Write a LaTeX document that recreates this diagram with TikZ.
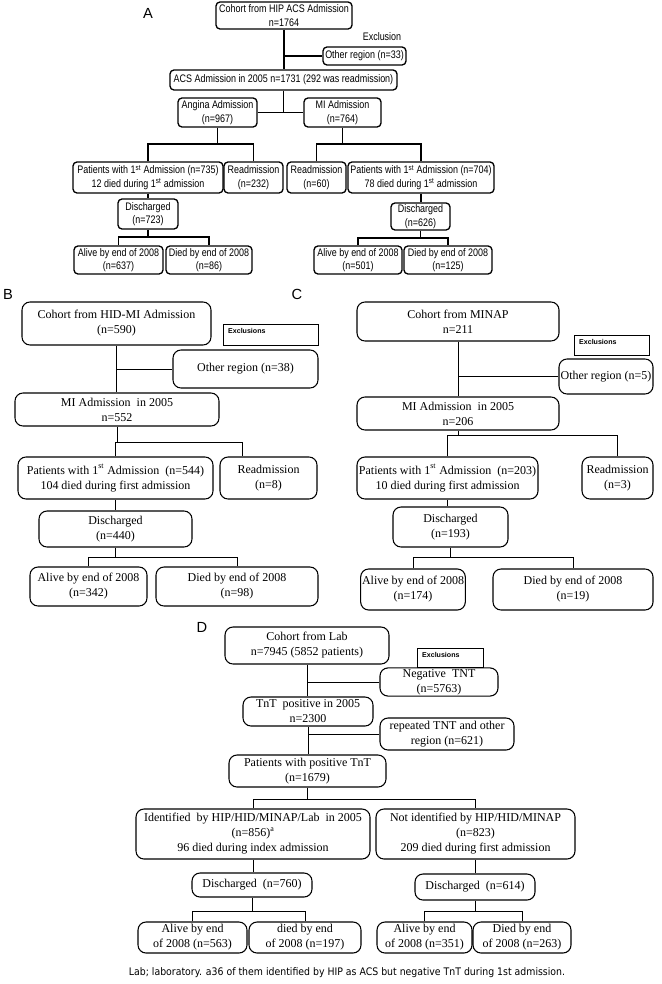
\documentclass[tikz,border=0pt]{standalone}
\usepackage{fontspec}
\setmainfont{Liberation Serif}
\newfontfamily\asans[FakeStretch=0.82]{Liberation Sans}
\newfontfamily\lsans{Liberation Sans}
\newfontfamily\fnsans[FakeStretch=0.9]{DejaVu Sans}
\newcommand{\bx}[7][]{\node[#1, minimum width={(#5-#3)*0.75pt}, minimum height={(#6-#4)*0.75pt}] (#2) at ({(#3+#5)/2},{(#4+#6)/2}) {#7};}
\tikzset{
  abox/.style={draw, rounded corners=3pt, line width=1pt, align=center, inner sep=1pt, font=\asans\fontsize{8.2}{10.2}\selectfont},
  sbox/.style={draw, rounded corners=6pt, line width=0.8pt, align=center, inner sep=1pt, font=\fontsize{9}{11.25}\selectfont},
  exbox/.style={draw, line width=0.6pt, inner sep=0pt},
  extext/.style={anchor=west, inner sep=0pt, font=\lsans\bfseries\fontsize{5.3}{6}\selectfont},
  aconn/.style={line width=0.9pt},
  sconn/.style={line width=0.7pt},
  plabel/.style={inner sep=0pt, font=\lsans\fontsize{11}{12}\selectfont}
}
\begin{document}
\begin{tikzpicture}[x=0.75pt,y=-0.75pt]
\useasboundingbox (0,0) rectangle (661,984);
% ---------------- Panel A ----------------
\node[plabel] (labA) at (148,13) {A};
\bx[abox]{top}{216}{2}{352}{29}{Cohort from HIP ACS Admission\\n=1764}
\node[inner sep=0pt, font=\asans\fontsize{8.2}{10}\selectfont] (exA) at (382,37) {Exclusion};
\bx[abox]{oth}{323}{47}{406}{65}{Other region (n=33)}
\bx[abox]{acs}{170}{70}{397}{90}{ACS Admission in 2005 n=1731 (292 was readmission)}
\bx[abox]{ang}{178}{98}{257}{127}{Angina Admission\\(n=967)}
\bx[abox]{mi}{304}{98}{381}{127}{MI Admission\\(n=764)}
\bx[abox]{p1}{73}{162}{223}{193}{Patients with 1\textsuperscript{st} Admission (n=735)\\12 died during 1\textsuperscript{st} admission}
\bx[abox]{r1}{224}{162}{283}{193}{Readmission\\(n=232)}
\bx[abox]{r2}{287}{162}{346}{193}{Readmission\\(n=60)}
\bx[abox]{p2}{348}{162}{494}{193}{Patients with 1\textsuperscript{st} Admission (n=704)\\78 died during 1\textsuperscript{st} admission}
\bx[abox]{d1}{118}{199}{178}{229}{Discharged\\(n=723)}
\bx[abox]{d2}{391}{203}{450}{230}{Discharged\\(n=626)}
\bx[abox]{a1}{74}{246}{163}{274}{Alive by end of 2008\\(n=637)}
\bx[abox]{x1}{166}{246}{252}{274}{Died by end of 2008\\(n=86)}
\bx[abox]{a2}{314}{246}{402}{274}{Alive by end of 2008\\(n=501)}
\bx[abox]{x2}{404}{246}{492}{274}{Died by end of 2008\\(n=125)}
\coordinate (yA1) at (0,144);
\coordinate (yA2) at (0,237);
\coordinate (yA3) at (0,238);
\draw[aconn] (top.south) -- (top.south |- acs.north);
\draw[aconn] (top.south |- oth.west) -- (oth.west);
\draw[aconn] (acs.south) -- (acs.south |- ang.east);
\draw[aconn] (ang.east) -- (mi.west);
\draw[aconn] (ang.south) -- (ang.south |- yA1);
\draw[aconn] (p1.north) -- (p1.north |- yA1) -- (r1.north |- yA1) -- (r1.north);
\draw[aconn] (mi.south) -- (mi.south |- yA1);
\draw[aconn] (r2.north) -- (r2.north |- yA1) -- (p2.north |- yA1) -- (p2.north);
\draw[aconn] (p1.south) -- (p1.south |- d1.north);
\draw[aconn] (p2.south) -- (p2.south |- d2.north);
\draw[aconn] (d1.south) -- (d1.south |- yA2);
\draw[aconn] (a1.north) -- (a1.north |- yA2) -- (x1.north |- yA2) -- (x1.north);
\draw[aconn] (d2.south) -- (d2.south |- yA3);
\draw[aconn] (a2.north) -- (a2.north |- yA3) -- (x2.north |- yA3) -- (x2.north);
% ---------------- Panel B ----------------
\node[plabel] (labB) at (8,294) {B};
\bx[sbox]{bc}{22}{302}{211}{345}{Cohort from HID-MI Admission\\(n=590)}
\bx[exbox]{bex}{223}{324}{318}{345}{}
\node[extext] (bext) at ([xshift=4pt,yshift=-5.5pt]bex.north west) {Exclusions};
\bx[sbox]{bo}{173}{350}{318}{388}{Other region (n=38)}
\bx[sbox]{bmi}{15}{393}{219}{426}{MI Admission\ \ in 2005\\n=552}
\bx[sbox]{bp}{18}{457}{213}{499}{Patients with 1\textsuperscript{st} Admission\ \ (n=544)\\104 died during\ first admission}
\bx[sbox]{br}{220}{457}{317}{499}{Readmission\\(n=8)}
\bx[sbox]{bd}{39}{511}{192}{547}{Discharged\\(n=440)}
\bx[sbox]{ba}{30}{567}{147}{606}{Alive by end of 2008\\(n=342)}
\bx[sbox]{bx}{156}{567}{318}{606}{Died by end of 2008\\(n=98)}
\coordinate (bRj) at (242,442);
\coordinate (yB2) at (0,557);
\draw[sconn] (bc.south) -- (bc.south |- bmi.north);
\draw[sconn] (bc.south |- bo.west) -- (bo.west);
\draw[sconn] (bmi.south) -- (bmi.south |- bRj);
\draw[sconn] (bp.north) |- (bRj) -- (bRj |- br.north);
\draw[sconn] (bp.south) -- (bp.south |- bd.north);
\draw[sconn] (bd.south) -- (bd.south |- yB2);
\draw[sconn] (ba.north) -- (ba.north |- yB2) -- (bx.north |- yB2) -- (bx.north);
% ---------------- Panel C ----------------
\node[plabel] (labC) at (297,294) {C};
\bx[sbox]{cc}{357}{302}{559}{341}{Cohort from MINAP\\n=211}
\bx[exbox]{cex}{574}{335}{649}{355}{}
\node[extext] (cext) at ([xshift=4pt,yshift=-5.5pt]cex.north west) {Exclusions};
\bx[sbox]{co}{559}{359}{653}{394}{Other region (n=5)}
\bx[sbox]{cmi}{357}{397}{559}{430}{MI Admission\ \ in 2005\\n=206}
\bx[sbox]{cp}{357}{457}{538}{499}{Patients with 1\textsuperscript{st} Admission\ \ (n=203)\\10 died during first admission}
\bx[sbox]{cr}{582}{457}{653}{499}{Readmission\\(n=3)}
\bx[sbox]{cd}{393}{507}{508}{547}{Discharged\\(n=193)}
\bx[sbox]{ca}{363}{569}{463}{610}{Alive by end of 2008\\(n=174)}
\bx[sbox]{cx}{493}{569}{653}{610}{Died by end of 2008\\(n=19)}
\coordinate (yC1) at (0,435);
\coordinate (yC2) at (0,557);
\draw[sconn] (cc.south) -- (cc.south |- cmi.north);
\draw[sconn] (cc.south |- co.west) -- (co.west);
\draw[sconn] (cmi.south) -- (cmi.south |- yC1);
\draw[sconn] (cp.north) -- (cp.north |- yC1) -- (cr.north |- yC1) -- (cr.north);
\draw[sconn] (cp.south) -- (cp.south |- cd.north);
\draw[sconn] (cd.south) -- (cd.south |- yC2);
\draw[sconn] (ca.north) -- (ca.north |- yC2) -- (cx.north |- yC2) -- (cx.north);
% ---------------- Panel D ----------------
\node[plabel] (labD) at (202,627) {D};
\bx[sbox]{dc}{225}{627}{389}{664}{Cohort from Lab\\n=7945 (5852 patients)}
\bx[exbox]{dex}{417}{648}{483}{667}{}
\node[extext] (dext) at ([xshift=4pt,yshift=-5.5pt]dex.north west) {Exclusions};
\bx[sbox]{dn}{380}{668}{498}{696}{Negative\ \ TNT\\(n=5763)}
\bx[sbox]{dt}{243}{697}{373}{726}{TnT\ \ positive in 2005\\n=2300}
\bx[sbox]{drp}{380}{718}{514}{750}{repeated TNT\ and other\\region (n=621)}
\bx[sbox]{dp}{229}{755}{386}{787}{Patients with positive TnT\\(n=1679)}
\bx[sbox]{di}{136}{809}{370}{859}{Identified\ \ by HIP/HID/MINAP/Lab\ \ in 2005\\(n=856)\textsuperscript{a}\\96 died during index admission}
\bx[sbox]{dni}{376}{809}{575}{859}{Not identified by HIP/HID/MINAP\\(n=823)\\209 died during first admission}
\bx[sbox]{dd1}{192}{873}{312}{897}{Discharged\ \ (n=760)}
\bx[sbox]{dd2}{415}{874}{535}{900}{Discharged\ \ (n=614)}
\bx[sbox]{da1}{138}{922}{247}{953}{Alive by end\\of 2008 (n=563)}
\bx[sbox]{dx1}{249}{922}{361}{953}{died by end\\of 2008 (n=197)}
\bx[sbox]{da2}{377}{922}{472}{953}{Alive by end\\of 2008 (n=351)}
\bx[sbox]{dx2}{473}{922}{571}{953}{Died by end\\of 2008 (n=263)}
\coordinate (yD1) at (0,799);
\coordinate (yD2) at (0,911);
\draw[sconn] (dc.south) -- (dc.south |- dt.north);
\draw[sconn] (dc.south |- dn.west) -- (dn.west);
\draw[sconn] (dt.south) -- (dt.south |- dp.north);
\draw[sconn] (dt.south |- drp.west) -- (drp.west);
\draw[sconn] (dp.south) -- (dp.south |- yD1);
\draw[sconn] (di.north) -- (di.north |- yD1) -- (dni.north |- yD1) -- (dni.north);
\draw[sconn] (di.south) -- (di.south |- dd1.north);
\draw[sconn] (dni.south) -- (dni.south |- dd2.north);
\draw[sconn] (dd1.south) -- (dd1.south |- yD2);
\draw[sconn] (da1.north) -- (da1.north |- yD2) -- (dx1.north |- yD2) -- (dx1.north);
\draw[sconn] (dd2.south) -- (dd2.south |- yD2);
\draw[sconn] (da2.north) -- (da2.north |- yD2) -- (dx2.north |- yD2) -- (dx2.north);
\node[inner sep=0pt, font=\fnsans\fontsize{7.8}{9}\selectfont] (foot) at (347,973) {Lab; laboratory. a36 of them identified by HIP as ACS but negative TnT during 1st admission.};
\end{tikzpicture}
\end{document}
